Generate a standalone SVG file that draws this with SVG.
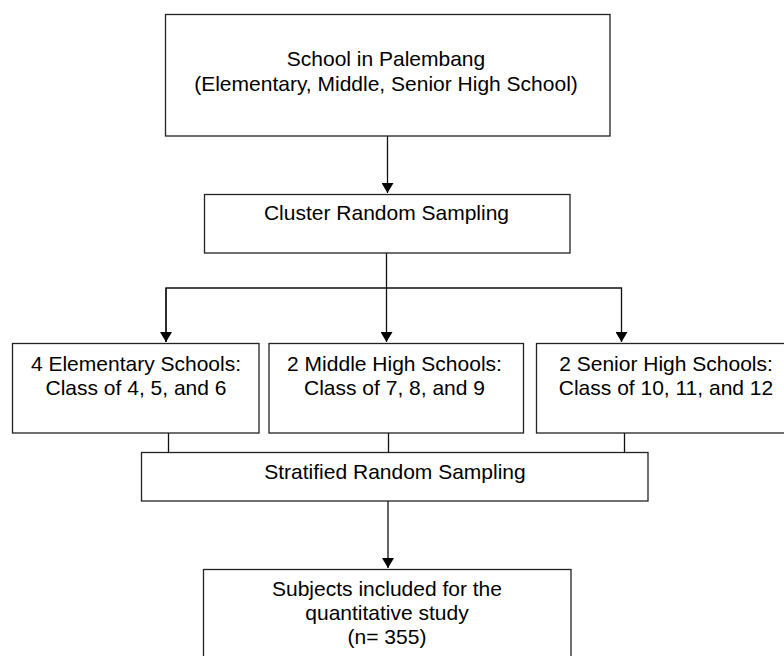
<svg xmlns="http://www.w3.org/2000/svg" width="784" height="656" viewBox="0 0 784 656">
<defs>
<marker id="arr" markerWidth="10" markerHeight="12" refX="10" refY="6" orient="auto" markerUnits="userSpaceOnUse" viewBox="0 0 10 12">
<path d="M0,0 L10,6 L0,12 Z" fill="#000"/>
</marker>
<style>
.box{fill:#fff;stroke:#222;stroke-width:1.3}
.t{font-family:"Liberation Sans",Arial,sans-serif;font-size:21px;fill:#000;text-anchor:middle}
.ln{fill:none;stroke:#111;stroke-width:1.3}
</style>
</defs>
<rect width="784" height="656" fill="#fff"/>
<g id="connectors">
<path class="ln" d="M387.5,136 V193" marker-end="url(#arr)"/>
<path class="ln" d="M386.5,253 V342" marker-end="url(#arr)"/>
<path class="ln" d="M166,342 V288 H621.5 V342" marker-end="url(#arr)"/>
<path class="ln" d="M166,288 V342" marker-end="url(#arr)"/>
<path class="ln" d="M168.5,433 V452"/>
<path class="ln" d="M388.5,433 V452"/>
<path class="ln" d="M624.5,433 V452"/>
<path class="ln" d="M388,501 V568" marker-end="url(#arr)"/>
</g>
<g id="n-school">
<rect class="box" x="165.5" y="14.5" width="444.5" height="121.5"/>
<text class="t" x="386" y="66">School in Palembang</text>
<text class="t" x="386" y="90.5">(Elementary, Middle, Senior High School)</text>
</g>
<g id="n-cluster">
<rect class="box" x="204.5" y="194.5" width="365.5" height="58.5"/>
<text class="t" x="386.5" y="220">Cluster Random Sampling</text>
</g>
<g id="n-elementary">
<rect class="box" x="12.5" y="343.5" width="246.5" height="89.5"/>
<text class="t" x="136" y="371">4 Elementary Schools:</text>
<text class="t" x="136" y="394.5">Class of 4, 5, and 6</text>
</g>
<g id="n-middle">
<rect class="box" x="269" y="343.5" width="254.5" height="89.5"/>
<text class="t" x="394.5" y="371">2 Middle High Schools:</text>
<text class="t" x="394.5" y="394.5">Class of 7, 8, and 9</text>
</g>
<g id="n-senior">
<rect class="box" x="536.5" y="343.5" width="262" height="89.5"/>
<text class="t" x="666" y="371">2 Senior High Schools:</text>
<text class="t" x="666" y="394.5">Class of 10, 11, and 12</text>
</g>
<g id="n-stratified">
<rect class="box" x="141.5" y="452.5" width="506.5" height="48.5"/>
<text class="t" x="395" y="479">Stratified Random Sampling</text>
</g>
<g id="n-subjects">
<rect class="box" x="203.5" y="569.5" width="367.5" height="110"/>
<text class="t" x="387" y="596">Subjects included for the</text>
<text class="t" x="387" y="620">quantitative study</text>
<text class="t" x="387" y="644">(n= 355)</text>
</g>
</svg>
